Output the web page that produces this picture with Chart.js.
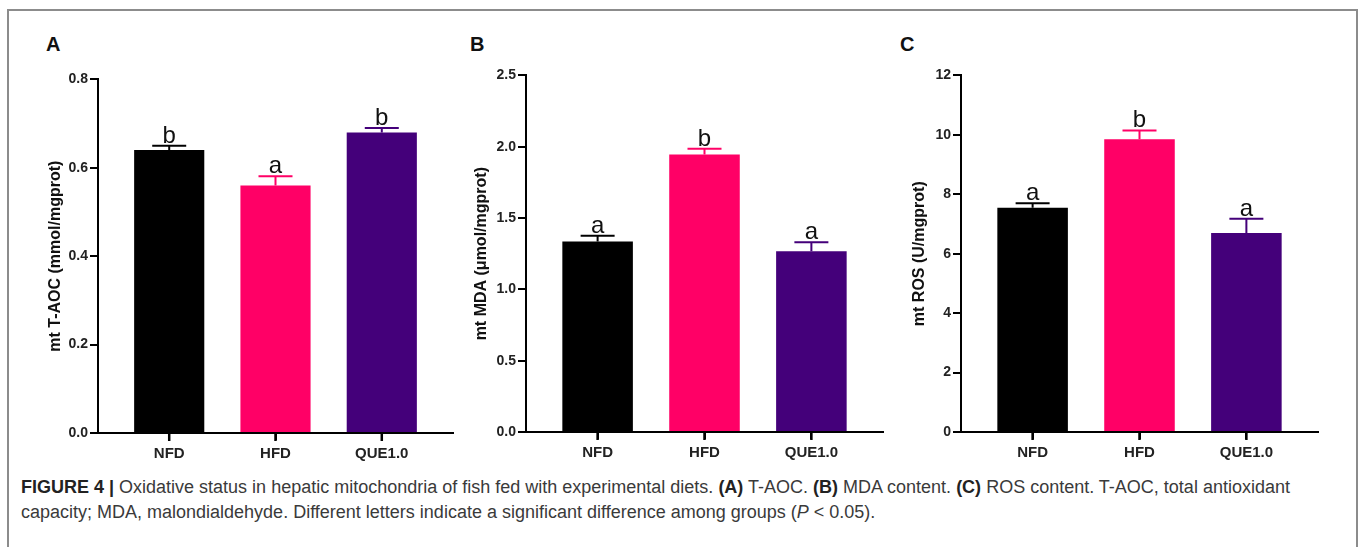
<!DOCTYPE html>
<html>
<head>
<meta charset="utf-8">
<script src="https://cdn.jsdelivr.net/npm/chart.js@4/dist/chart.umd.min.js"></script>
<style>
  html, body { margin: 0; padding: 0; background: #fff; }
  body { width: 1360px; height: 547px; position: relative; overflow: hidden; font-family: "Liberation Sans", Arial, sans-serif; }
  .frame { position: absolute; left: 7px; top: 9px; width: 1347px; height: 600px; border: 2px solid #8c8c8c; }
  .panel { position: absolute; }
  .tag { position: absolute; font-weight: bold; font-size: 20px; color: #111; }
  .caption { position: absolute; left: 21px; top: 475px; width: 1325px; font-size: 18px; line-height: 25px; color: #3a3a3a; }
  .caption b { color: #222; }
</style>
</head>
<body>
<div class="frame"></div>

<div class="tag" style="left:46px; top:33px;">A</div>
<div class="tag" style="left:470px; top:33px;">B</div>
<div class="tag" style="left:900px; top:33px;">C</div>

<div class="panel" style="left:38px; top:69px; width:417px; height:394px;"><canvas id="chartA"></canvas></div>
<div class="panel" style="left:466px; top:65px; width:419px; height:397px;"><canvas id="chartB"></canvas></div>
<div class="panel" style="left:901px; top:65px; width:419px; height:397px;"><canvas id="chartC"></canvas></div>

<div class="caption"><b>FIGURE 4 |</b> Oxidative status in hepatic mitochondria of fish fed with experimental diets. <b>(A)</b> T-AOC. <b>(B)</b> MDA content. <b>(C)</b> ROS content. T-AOC, total antioxidant<br>capacity; MDA, malondialdehyde. Different letters indicate a significant difference among groups (<i>P</i> &lt; 0.05).</div>

<script>
// groups and colours shared by the three panels
const groups = ['NFD', 'HFD', 'QUE1.0'];
const barColors = ['#000000', '#ff0066', '#44007a'];

// A - T-AOC
const taocMean = [0.64, 0.56, 0.68];
const taocSem = [0.01, 0.021, 0.01];
const taocLetters = ['b', 'a', 'b'];

// B - MDA
const mdaMean = [1.336, 1.946, 1.268];
const mdaSem = [0.04, 0.04, 0.063];
const mdaLetters = ['a', 'b', 'a'];

// C - ROS
const rosMean = [7.55, 9.85, 6.7];
const rosSem = [0.15, 0.3, 0.48];
const rosLetters = ['a', 'b', 'a'];

const FONT = '"Liberation Sans", Arial, sans-serif';

// error bars (upper only), significance letters, x tick marks
const errorBarPlugin = {
    id: 'errorBars',
    afterDraw: function (chart, args, opts) {
        const ctx = chart.ctx;
        const yScale = chart.scales.y;
        const bottom = chart.chartArea.bottom;
        const meta = chart.getDatasetMeta(0);
        ctx.save();
        meta.data.forEach(function (bar, i) {
            const top = yScale.getPixelForValue(opts.mean[i] + opts.sem[i]);
            ctx.strokeStyle = barColors[i];
            ctx.lineWidth = 2;
            ctx.beginPath();
            ctx.moveTo(bar.x, bar.y);
            ctx.lineTo(bar.x, top);
            ctx.moveTo(bar.x - 17, top);
            ctx.lineTo(bar.x + 17, top);
            ctx.stroke();

            ctx.fillStyle = '#111';
            ctx.font = '24px ' + FONT;
            ctx.textAlign = 'center';
            ctx.textBaseline = 'alphabetic';
            ctx.fillText(opts.letters[i], bar.x, top - 3);

            // category tick under the axis
            ctx.strokeStyle = '#000';
            ctx.lineWidth = 2.5;
            ctx.beginPath();
            ctx.moveTo(bar.x, bottom);
            ctx.lineTo(bar.x, bottom + 8);
            ctx.stroke();
        });
        ctx.restore();
    },
};

function makePanel(id, mean, sem, letters, yMax, yStep, decimals, title, titlePad) {
    new Chart(document.getElementById(id), {
        type: 'bar',
        data: {
            datasets: [{
                data: mean.map(function (v, i) { return { x: i, y: v }; }),
                backgroundColor: barColors,
                borderWidth: 0,
                categoryPercentage: 1,
                barPercentage: 0.66,
            }],
        },
        options: {
            responsive: true,
            maintainAspectRatio: false,
            animation: false,
            layout: { padding: { top: 10, right: 2, left: 0, bottom: 0 } },
            plugins: {
                legend: { display: false },
                tooltip: { enabled: false },
                errorBars: { mean: mean, sem: sem, letters: letters },
            },
            scales: {
                x: {
                    type: 'linear',
                    min: -0.67,
                    max: 2.67,
                    offset: false,
                    afterFit: function (s) { s.height = 30; },
                    ticks: {
                        stepSize: 1,
                        includeBounds: false,
                        autoSkip: false,
                        maxRotation: 0,
                        padding: 5,
                        color: '#222',
                        font: { family: FONT, size: 15, weight: 'bold' },
                        callback: function (v) { return groups[v]; },
                    },
                    grid: { offset: false, drawOnChartArea: false, drawTicks: true, tickLength: 7, color: '#000', lineWidth: 2 },
                    border: { display: true, color: '#000', width: 2 },
                },
                y: {
                    min: 0,
                    max: yMax,
                    afterFit: function (s) { s.width = 60; },
                    ticks: {
                        stepSize: yStep,
                        padding: 2,
                        color: '#222',
                        font: { family: FONT, size: 14, weight: 'bold' },
                        callback: function (v) { return v.toFixed(decimals); },
                    },
                    grid: { drawOnChartArea: false, drawTicks: true, tickLength: 8, color: '#000', lineWidth: 2 },
                    border: { display: true, color: '#000', width: 2 },
                    title: {
                        display: true,
                        text: title,
                        color: '#111',
                        padding: { top: titlePad, bottom: 0 },
                        font: { family: FONT, size: 16, weight: 'bold' },
                    },
                },
            },
        },
        plugins: [errorBarPlugin],
    });
}

makePanel('chartA', taocMean, taocSem, taocLetters, 0.8, 0.2, 1, 'mt T-AOC (mmol/mgprot)', 8);
makePanel('chartB', mdaMean, mdaSem, mdaLetters, 2.5, 0.5, 1, 'mt MDA (\u03bcmol/mgprot)', 6);
makePanel('chartC', rosMean, rosSem, rosLetters, 12, 2, 0, 'mt ROS (U/mgprot)', 9);
</script>
</body>
</html>
